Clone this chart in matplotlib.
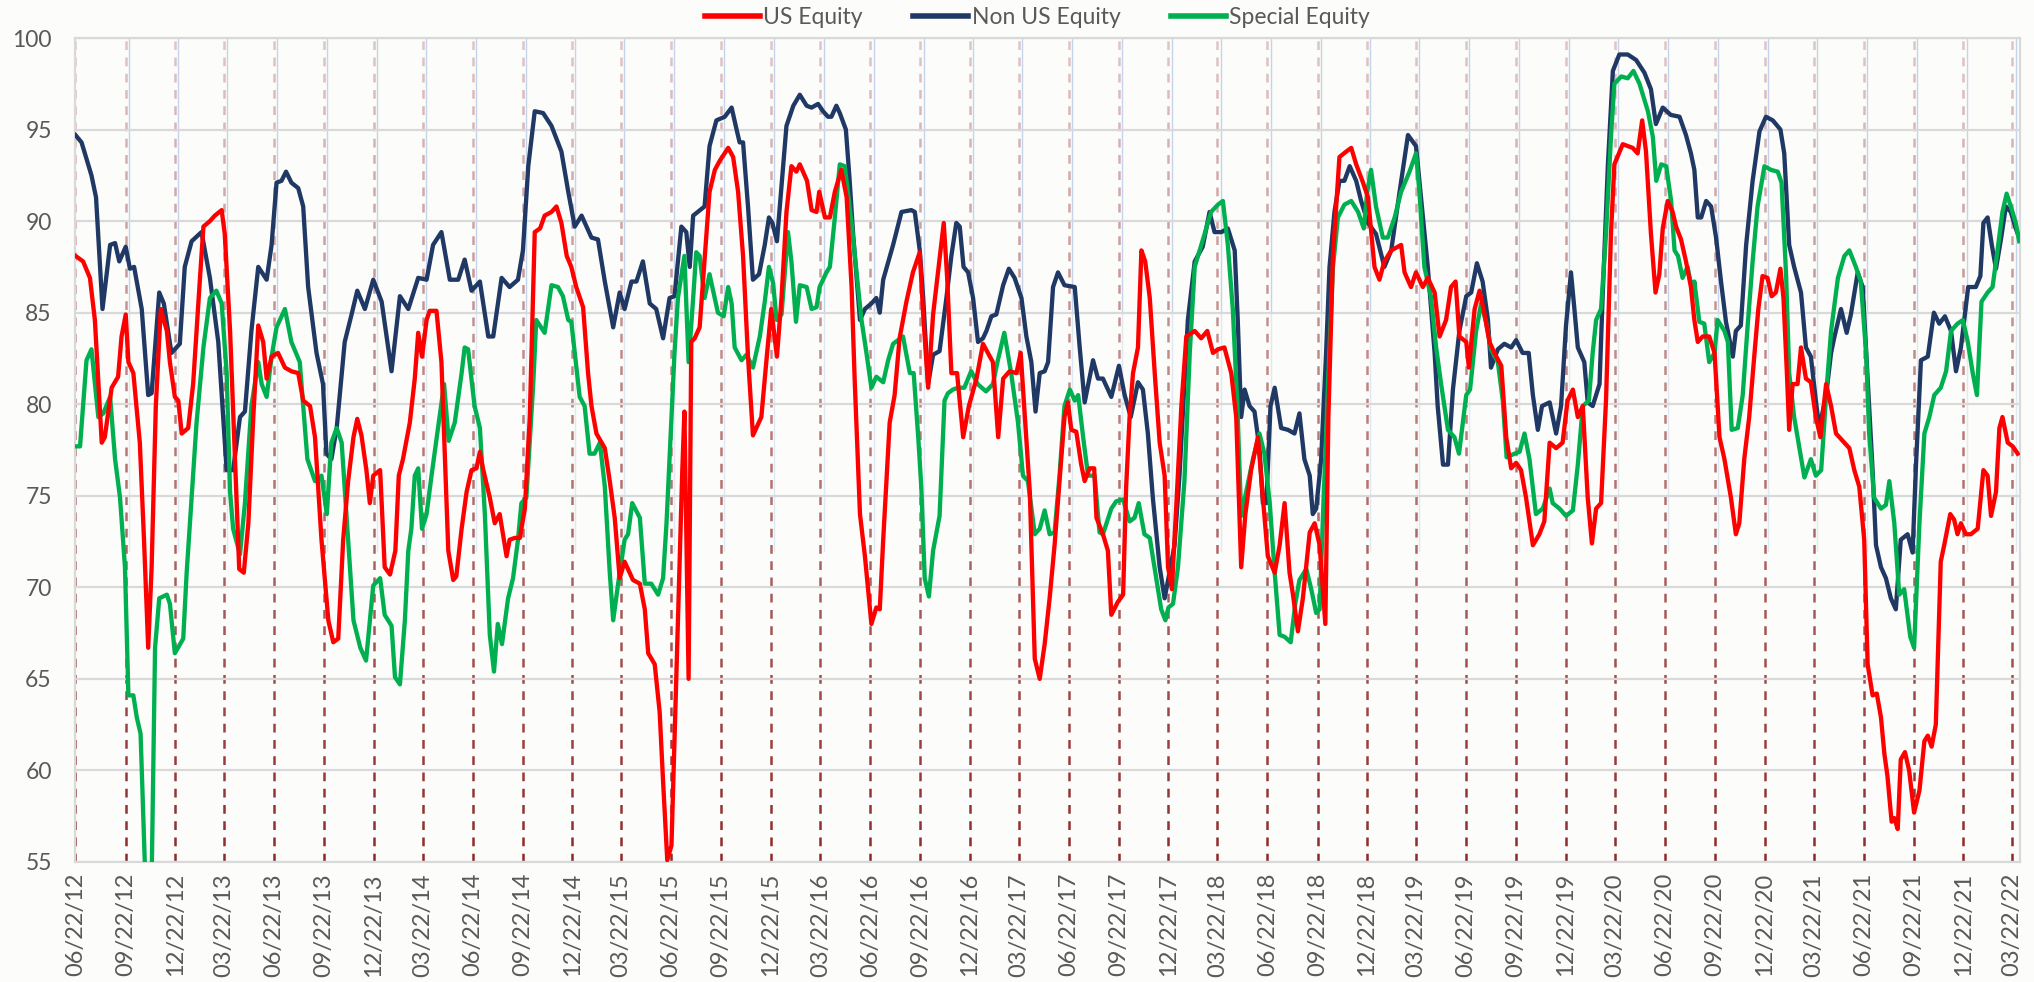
import numpy as np
import pandas as pd
import matplotlib
matplotlib.use('Agg')
import matplotlib.pyplot as plt
from matplotlib.lines import Line2D

plt.rcParams['font.family'] = ['Lato', 'DejaVu Sans']

# weeks since 06/22/2012 and index values
us_weeks = [0, 2, 3.8, 5.1, 6.9, 7.7, 9.5, 11.2, 12.1, 13.2, 13.9, 15.2, 16.9, 18, 19.1, 20, 21.1, 22.4, 24, 24.8,
            26.1, 27, 27.9, 29.6, 30.9, 32.7, 33.6, 35.3, 36.6, 38.4, 39.2, 40.6, 41.9, 43, 44.2, 45.4, 46.7, 48,
            49.3, 50.2, 51.5, 53.2, 55, 56.7, 58.5, 59.8, 61.6, 62.9, 64.6, 66.4, 67.7, 69, 70.3, 71.6, 73, 74,
            75.1, 76.4, 77.3, 78.2, 80, 81.2, 82.6, 84, 84.9, 86, 87.8, 89.1, 90, 91, 92.2, 93, 94.8, 96.1, 97.9,
            99.2, 100, 101.4, 102.7, 104, 105.3, 106.2, 107, 108.8, 110.1, 111.4, 113.2, 114, 115.4, 116.7, 118,
            119.3, 120.6, 122, 123.2, 125, 126.3, 127.6, 129, 130.2, 131.5, 133.3, 134.6, 135.5, 136.8, 139, 140.3,
            141.6, 142.9, 144.2, 146.4, 148.2, 149.5, 150.4, 152.1, 153.4, 154.3, 155.4, 156.5, 158.2, 159.3,
            159.9, 161, 161.7, 162.6, 163.9, 165.7, 166.5, 167.9, 169.2, 171.4, 172.7, 174, 175.3, 176.6, 177.9,
            180.1, 181.4, 182.7, 184.2, 185.4, 186.7, 188, 189.3, 190.2, 192.1, 193.3, 194.6, 195.3, 196.8, 198.1,
            199.4, 201.1, 202.5, 203.8, 204.6, 206, 207.3, 209, 210.3, 211.2, 212.1, 213.8, 215.1, 216.4, 218.2,
            219.9, 221.7, 222.6, 223.9, 225.2, 226.5, 228, 228.9, 230, 231.5, 233.1, 234.6, 236.6, 238.3, 240.1,
            240.9, 242.3, 243.6, 245.3, 247.1, 248.2, 249.3, 250.6, 251.9, 253.2, 254.5, 255.8, 257.1, 258.4,
            259.7, 260.6, 261.5, 262.8, 264.1, 265, 266.3, 267.5, 268.1, 269.8, 271.1, 272, 273.7, 275.1, 275.9,
            276.8, 277.7, 279, 279.9, 280.9, 282.1, 283.4, 284.7, 286, 286.9, 287.9, 289.1, 290.4, 291.7, 293.9,
            295.6, 297.2, 298.7, 300, 301.7, 303.5, 304.8, 306.1, 307.2, 308.7, 310.5, 311.8, 313.1, 314.9, 316.2,
            317.5, 318.8, 319.7, 321, 322.3, 324.1, 325.4, 326.7, 328.2, 329, 330.2, 331.9, 333.7, 335, 336.3,
            338.1, 339.4, 341.1, 342.4, 343.7, 345.5, 348.1, 349, 350.7, 352, 353.8, 355.1, 356.9, 358.2, 359.9,
            361.2, 362.4, 363.4, 365.2, 365.9, 367.4, 368.7, 370, 371.3, 372.6, 374.4, 375.7, 377, 378.3, 379.6,
            380.9, 382.7, 384.4, 385.7, 387.1, 388.8, 390.5, 391.8, 393.2, 394.5, 395.8, 397.1, 398.2, 399.3,
            400.6, 401.9, 403.2, 404.1, 406.3, 408.9, 410.2, 411.4, 412.4, 413.7, 414.9, 415.9, 416.8, 418.1,
            419.4, 420.3, 421.6, 422.9, 424.2, 425.1, 426, 427.3, 429, 430.4, 431.7, 433, 434.7, 436, 436.9, 438.2,
            439.5, 440.9, 441.9, 443, 444.3, 445.4, 446.5, 447.7, 448.5, 449.4, 450, 450.9, 452.2, 453.1, 454.4,
            455.7, 457, 458.2, 459.7, 461, 462.3, 464.5, 465.8, 467.1, 468.4, 469.7, 470.6, 471.9, 473, 474.1, 475,
            475.8, 476.9, 477.6, 478.5, 479.3, 480.4, 481.5, 482.8, 484.2, 485.5, 486.4, 487.4, 488.5, 489.8,
            490.7, 492.3, 493.3, 494.2, 495.1, 496.4, 497.7, 499.5, 501, 502.1, 503, 504.3, 505.2, 506, 507.4,
            508.7, 510]
us_vals = [88.1, 87.8, 86.9, 84.6, 77.9, 78.2, 80.9, 81.5, 83.7, 84.9, 82.3, 81.7, 77.9, 72.6, 66.7, 71.1, 79.9,
           85.2, 84.0, 82.3, 80.4, 80.2, 78.4, 78.7, 81.1, 86.9, 89.7, 90.0, 90.3, 90.6, 89.3, 84.0, 77.0, 71.0,
           70.8, 73.5, 79.3, 84.3, 83.4, 81.4, 82.6, 82.8, 82.0, 81.8, 81.7, 80.2, 79.9, 78.2, 72.6, 68.2, 67.0,
           67.2, 72.6, 75.8, 78.2, 79.2, 78.3, 76.4, 74.6, 76.1, 76.4, 71.1, 70.7, 72.0, 76.1, 77.0, 79.0, 81.4,
           83.9, 82.6, 84.6, 85.1, 85.1, 82.3, 72.0, 70.4, 70.6, 73.2, 75.2, 76.4, 76.5, 77.4, 76.5, 74.9, 73.5,
           74.0, 71.7, 72.6, 72.7, 72.7, 74.3, 79.3, 89.4, 89.6, 90.3, 90.5, 90.8, 89.9, 88.1, 87.5, 86.4, 85.3,
           81.7, 79.9, 78.4, 77.6, 75.8, 73.8, 70.5, 71.4, 70.4, 70.2, 68.8, 66.4, 65.8, 63.2, 59.4, 55.1, 55.9,
           68.2, 76.1, 79.6, 65.0, 83.4, 83.6, 84.2, 89.3, 91.6, 92.8, 93.3, 94.0, 93.5, 91.6, 88.1, 82.6, 78.3,
           79.3, 82.3, 85.2, 82.6, 85.8, 90.5, 93.0, 92.7, 93.1, 92.2, 90.6, 90.5, 91.6, 90.2, 90.2, 91.6, 92.8,
           91.3, 86.4, 81.4, 74.0, 71.7, 68.0, 68.9, 68.8, 72.6, 79.0, 80.5, 83.6, 85.6, 87.2, 88.3, 84.9, 80.9,
           84.9, 87.2, 89.9, 86.9, 81.7, 81.7, 78.2, 79.9, 81.4, 83.3, 82.6, 82.3, 78.2, 81.4, 81.8, 81.7, 82.8,
           79.3, 75.2, 66.1, 65.0, 66.9, 69.4, 72.3, 75.8, 79.3, 80.1, 78.6, 78.5, 76.7, 75.8, 76.5, 76.5, 73.8,
           72.9, 72.0, 68.5, 69.2, 69.6, 75.5, 79.3, 81.7, 83.1, 88.4, 87.8, 85.8, 81.7, 77.9, 76.1, 71.1, 69.9,
           74.6, 79.9, 83.7, 84.0, 83.6, 84.0, 82.8, 83.0, 83.1, 81.7, 79.3, 71.1, 74.0, 76.4, 78.2, 74.9, 71.7,
           70.8, 72.3, 74.6, 70.8, 69.6, 67.6, 69.4, 73.0, 73.5, 72.3, 68.0, 79.3, 88.1, 93.5, 93.8, 94.0, 93.1,
           92.1, 91.3, 87.5, 86.8, 87.8, 88.4, 88.7, 87.2, 86.4, 87.2, 86.4, 86.9, 86.1, 83.7, 84.6, 86.4, 86.7,
           83.7, 83.4, 82.0, 85.2, 86.2, 84.9, 83.4, 82.8, 82.1, 78.2, 76.5, 76.8, 76.4, 74.9, 72.3, 72.9, 73.6,
           77.9, 77.6, 77.9, 80.2, 80.8, 79.3, 79.9, 74.9, 72.4, 74.3, 74.6, 80.2, 89.3, 93.1, 94.2, 94.0, 93.7,
           95.5, 93.8, 89.3, 86.1, 87.1, 89.6, 91.1, 90.5, 89.7, 89.0, 87.8, 86.4, 84.6, 83.4, 83.7, 83.7, 82.8,
           78.2, 77.0, 74.9, 72.9, 73.5, 77.0, 79.3, 82.8, 85.2, 87.0, 86.9, 85.9, 86.1, 87.4, 85.8, 81.7, 78.6,
           81.1, 81.1, 83.1, 81.4, 81.2, 79.3, 78.2, 81.1, 79.9, 78.4, 77.9, 77.6, 76.4, 75.5, 72.6, 65.8, 64.1,
           64.2, 62.9, 60.9, 59.7, 57.2, 57.4, 56.8, 60.6, 61.0, 60.0, 57.7, 58.9, 61.6, 61.9, 61.3, 62.5, 71.4,
           72.3, 74.0, 73.7, 72.9, 73.5, 72.9, 72.9, 73.2, 76.4, 76.1, 73.9, 75.2, 78.7, 79.3, 77.9, 77.7, 77.3]

non_us_weeks = [0, 1.6, 4.2, 5.4, 7.1, 9.1, 10.4, 11.5, 13.2, 14.3, 15.4, 17.4, 19.1, 20, 22, 23.2, 25.2, 27.4,
                28.7, 30.5, 33.1, 35.3, 37.5, 39.7, 41.4, 43.2, 44.5, 46.2, 48, 50.2, 51.5, 52.8, 54.1, 55.3, 56.7,
                58.5, 59.8, 61.1, 63.3, 65, 65.9, 67.2, 68.6, 70.7, 72.5, 74, 76, 78.2, 80.4, 83, 85.2, 87.4, 90,
                92.2, 93.9, 96.1, 98.3, 100.5, 102.2, 104, 106.2, 108.4, 109.7, 111.9, 114, 116.2, 117.5, 118.9,
                120.6, 122.8, 125, 127.6, 129.4, 131.1, 132.9, 135.5, 137.2, 139, 141.2, 142.9, 144.2, 146, 147.3,
                149, 150.8, 152.5, 154.3, 156, 157.3, 159.1, 160.4, 161.3, 162.2, 165.2, 166.5, 168.3, 170.5,
                172.3, 173.6, 174.4, 175.3, 176.6, 177.9, 179.5, 181, 182.1, 183, 184.2, 185.4, 186.7, 188.5,
                190.2, 192, 193.3, 195, 196.3, 197.6, 198.5, 199.8, 200.7, 202.3, 203.3, 204.2, 206, 207.3, 209,
                210.3, 211.2, 212.1, 214.7, 216.9, 219.5, 220.4, 221.7, 222.6, 223.9, 225.2, 226.9, 228.7, 230,
                231.3, 232.2, 233.2, 234.4, 235.7, 237, 238.3, 239.2, 240.5, 241.8, 243.6, 245.1, 246.6, 248.4,
                249.7, 251, 252.1, 253.2, 254.5, 255.4, 256.7, 258, 259.7, 262.4, 263.7, 265, 267.2, 268.5, 269.8,
                272, 274, 275.5, 277.1, 279, 280.3, 281.6, 282.9, 284.7, 286, 287, 288.6, 289.9, 292.1, 293.9, 296,
                297.8, 299.1, 300.9, 302.6, 304.4, 305.2, 306.1, 307, 308.3, 309.6, 310.9, 311.8, 312.7, 313.8,
                314.9, 316.6, 318.4, 320.1, 321.4, 322.7, 324.1, 324.9, 325.8, 327.1, 328.4, 329.3, 330.6, 331.9,
                333.2, 334.6, 336.3, 337.6, 339.4, 341.5, 343.7, 345.5, 347.7, 349.9, 352, 352.9, 355.1, 356.9,
                357.7, 359.1, 360.4, 361.7, 363.4, 365.2, 366.5, 368, 369.5, 370.9, 371.7, 373.5, 375.2, 377, 378.3,
                380, 381.6, 382.7, 384, 385.1, 387.1, 388.8, 390.1, 391.4, 392.7, 393.6, 394.5, 396.2, 397.1, 398.4,
                400.2, 401, 402.4, 403.7, 405.4, 407.6, 409.8, 412, 413.7, 415, 416.8, 418.9, 421.2, 422.9, 424.2,
                425.1, 426, 426.9, 428.2, 429.5, 430.8, 432.1, 433.4, 435.2, 436, 437.3, 438.7, 440.4, 442.2, 443.9,
                445.7, 447.7, 448.7, 450, 451.3, 453.1, 454.4, 455.7, 457, 457.9, 459.7, 461, 461.8, 463.6, 465.1,
                466.2, 468, 469.3, 470.6, 471.9, 472.8, 474.1, 475.4, 476.7, 478, 479.3, 481.1, 482.4, 483.3, 484.6,
                486.4, 488, 489.4, 490.9, 492.5, 493.8, 495.1, 497, 499, 500.2, 501, 502.1, 503.2, 504.3, 505.6,
                506.9, 508.2, 509.5, 510.4]
non_us_vals = [94.7, 94.3, 92.5, 91.3, 85.2, 88.7, 88.8, 87.8, 88.6, 87.4, 87.5, 85.2, 80.5, 80.6, 86.1, 85.5,
               82.8, 83.3, 87.5, 88.9, 89.4, 86.9, 83.4, 76.4, 76.4, 79.3, 79.6, 84.0, 87.5, 86.8, 88.7, 92.1, 92.2,
               92.7, 92.1, 91.8, 90.8, 86.4, 82.8, 81.1, 77.3, 77.0, 78.7, 83.4, 84.9, 86.2, 85.2, 86.8, 85.6, 81.8,
               85.9, 85.2, 86.9, 86.8, 88.7, 89.4, 86.8, 86.8, 87.9, 86.2, 86.7, 83.7, 83.7, 86.9, 86.4, 86.8, 88.4,
               93.0, 96.0, 95.9, 95.2, 93.8, 91.6, 89.7, 90.3, 89.1, 89.0, 86.7, 84.2, 86.1, 85.2, 86.7, 86.7, 87.8,
               85.5, 85.2, 83.6, 85.8, 85.9, 89.7, 89.4, 87.5, 90.3, 90.8, 94.1, 95.5, 95.7, 96.2, 95.0, 94.3, 94.3,
               90.8, 86.8, 87.1, 88.7, 90.2, 89.9, 88.9, 91.9, 95.2, 96.3, 96.9, 96.3, 96.2, 96.4, 96.0, 95.7, 95.7,
               96.3, 95.9, 95.0, 92.2, 89.3, 84.6, 85.2, 85.5, 85.8, 85.0, 86.8, 88.7, 90.5, 90.6, 90.5, 88.4, 85.8,
               81.1, 82.7, 82.9, 85.8, 88.1, 89.9, 89.7, 87.5, 87.2, 85.8, 83.4, 83.6, 84.0, 84.8, 84.9, 86.5, 87.4,
               86.9, 85.8, 83.7, 82.3, 79.6, 81.7, 81.8, 82.3, 86.4, 87.2, 86.5, 86.4, 83.1, 80.1, 82.4, 81.4, 81.4,
               80.4, 82.1, 80.5, 79.3, 81.2, 80.8, 78.4, 74.9, 71.1, 69.4, 70.5, 72.3, 76.1, 84.6, 87.8, 88.6, 90.5,
               89.4, 89.4, 89.6, 88.4, 84.6, 79.3, 80.8, 79.9, 79.6, 77.6, 74.6, 74.6, 79.9, 80.9, 78.7, 78.6, 78.4,
               79.5, 77.0, 76.1, 74.0, 74.3, 77.0, 82.8, 87.5, 90.5, 92.2, 92.2, 93.0, 92.2, 91.1, 89.9, 89.3, 87.5,
               88.4, 91.6, 94.7, 94.1, 92.2, 87.5, 82.8, 79.9, 76.7, 76.7, 80.8, 84.0, 85.9, 86.1, 87.7, 86.7, 84.6,
               82.0, 83.0, 83.3, 83.1, 83.5, 82.8, 82.8, 80.5, 78.6, 79.9, 80.1, 78.4, 79.9, 84.3, 87.2, 85.2, 83.1,
               82.3, 80.1, 79.9, 81.1, 85.8, 93.1, 98.2, 99.1, 99.1, 98.8, 98.1, 97.2, 95.3, 96.2, 95.8, 95.7, 94.7,
               93.7, 92.8, 90.2, 90.2, 91.1, 90.8, 89.1, 86.7, 84.5, 82.6, 84.0, 84.3, 88.7, 92.2, 94.9, 95.7, 95.5,
               95.0, 93.7, 88.7, 87.5, 86.1, 83.1, 82.6, 80.2, 78.7, 80.5, 82.8, 83.6, 85.2, 83.9, 84.9, 87.2, 86.4,
               81.4, 76.4, 72.3, 71.1, 70.5, 69.4, 68.8, 72.6, 72.9, 71.9, 76.7, 82.4, 82.6, 85.0, 84.4, 84.8, 84.0,
               81.8, 83.1, 86.4, 86.4, 87.0, 89.9, 90.2, 88.7, 87.4, 89.0, 90.8, 90.5, 89.6, 89.1]

special_weeks = [0, 1.2, 2.9, 4.2, 6, 7.3, 9.1, 10.4, 11.7, 13, 13.9, 15.2, 16.1, 17.1, 18.2, 19, 20, 20.9, 22, 24,
                 24.8, 26.1, 28.3, 29.2, 30.5, 31.8, 33.6, 35.3, 37, 38.4, 39.7, 40.6, 41.4, 43.2, 44.5, 46.2, 48,
                 48.9, 50.2, 51.5, 52.8, 55, 56.7, 58.9, 59.8, 60.9, 62.9, 64.6, 66, 67.2, 68.6, 69.9, 71.6, 73,
                 74.8, 76.3, 78.2, 80, 81.2, 83, 83.9, 85.2, 86.5, 87.4, 88.2, 89.1, 90, 91, 92.2, 93.5, 95.2, 96.8,
                 98, 99.6, 101.4, 102.2, 103.1, 104.8, 106.2, 107.5, 108.8, 109.9, 110.9, 112, 113.6, 114.9, 116.2,
                 117.1, 118.4, 120.2, 121, 123.2, 125, 126.7, 128, 129.4, 130.2, 132.4, 133.7, 135, 136.3, 137.7,
                 139, 140.3, 141.2, 142.5, 144.2, 145.1, 146.2, 148.2, 149.5, 151.2, 153, 154.3, 155.2, 156.5,
                 157.3, 158.2, 159.9, 161, 162.2, 163, 163.9, 165.2, 166.5, 168.7, 170.2, 171.4, 172.3, 173.1,
                 174.9, 176.2, 177.9, 179.7, 181, 182.1, 183.2, 184.1, 185.4, 187.1, 188, 189.2, 190.2, 192, 193.3,
                 194.6, 195.4, 197.2, 198.1, 199.4, 200.7, 202, 203.8, 205.1, 206.4, 207.7, 209, 210.3, 212.1,
                 213.4, 214.7, 217.3, 219.1, 220.1, 221.3, 222.1, 223, 224.1, 225.2, 226.9, 228.2, 229.1, 230.4,
                 231.7, 233.4, 235.2, 236.9, 239.1, 240.9, 242.2, 243.9, 245.7, 247.5, 248.8, 250.1, 251.9, 253.2,
                 254.5, 255.8, 257.1, 258.4, 259.7, 261.1, 262.4, 263.3, 264.6, 265.9, 267.6, 268.9, 269.8, 272,
                 273.3, 275.1, 276.8, 278.1, 279.2, 280.7, 282.1, 283.8, 285.1, 286.2, 287, 288.2, 289.5, 291.2,
                 292.6, 293.9, 295.2, 296.5, 298.2, 300, 301.3, 302.6, 303.9, 305.1, 306.1, 307.4, 309.2, 310.9,
                 312.2, 313.6, 314.9, 316.2, 317.5, 319.1, 320.3, 321.4, 323.2, 324.5, 325.8, 326.7, 327.6, 328.9,
                 330.2, 331.5, 333.2, 335, 336.8, 338.3, 339.2, 340.2, 341.5, 343.3, 344.6, 346.4, 348.1, 350.3,
                 352, 352.9, 354.2, 355.9, 357.3, 358.6, 360.4, 362.1, 363.3, 365.2, 366.2, 367.8, 369.1, 370.4,
                 371.7, 373.5, 374.8, 375.8, 377.9, 379.2, 380.5, 381.8, 383.5, 385.3, 387.1, 387.9, 389.7, 391.4,
                 393.2, 394.5, 395.8, 397.4, 398.4, 399.3, 400.6, 401.9, 403.2, 404.1, 405.9, 407.6, 409.1, 410.7,
                 412.9, 414.2, 415.1, 416.4, 417.7, 419, 419.9, 420.8, 422, 423.3, 424.7, 425.1, 426.4, 427.7, 429,
                 430.4, 431.2, 433, 433.9, 434.9, 436.5, 437.8, 439.1, 440.4, 441.7, 443.5, 445.2, 447, 448, 449.2,
                 450, 451.3, 452.7, 454, 455.7, 457, 458.4, 459.7, 461, 462.8, 464.5, 465.8, 467.5, 468.8, 470.2,
                 471, 472.3, 474.1, 475.4, 476.3, 477.6, 478.9, 480.2, 481.8, 482.8, 484.2, 485.5, 486.8, 488.1,
                 489.8, 491.2, 492.5, 494.2, 495.6, 496.9, 498.2, 499.3, 500.5, 502.1, 503.4, 504.7, 506, 507.1,
                 508.2, 509.5, 510.4]
special_vals = [77.7, 77.7, 82.4, 83.0, 79.3, 79.5, 80.4, 77.0, 74.9, 71.1, 64.1, 64.1, 62.9, 62.0, 55.0, 53.5,
                54.0, 66.7, 69.4, 69.6, 69.1, 66.4, 67.2, 70.8, 74.9, 79.0, 83.1, 85.8, 86.2, 85.5, 81.7, 75.2, 73.2,
                71.8, 74.6, 79.9, 82.3, 81.1, 80.4, 82.6, 84.2, 85.2, 83.4, 82.3, 79.9, 77.0, 75.8, 76.1, 74.0, 77.9,
                78.7, 77.9, 72.6, 68.2, 66.7, 66.0, 70.1, 70.5, 68.5, 67.9, 65.1, 64.7, 68.2, 72.0, 73.2, 76.1, 76.5,
                73.2, 74.0, 76.1, 78.7, 81.1, 78.0, 79.0, 81.7, 83.1, 83.0, 79.9, 78.7, 74.0, 67.4, 65.4, 68.0, 66.9,
                69.4, 70.5, 72.6, 74.6, 74.9, 81.1, 84.6, 83.9, 86.5, 86.4, 85.9, 84.6, 84.5, 80.4, 79.9, 77.3, 77.3,
                77.9, 75.5, 70.8, 68.2, 70.2, 72.6, 72.9, 74.6, 73.8, 70.2, 70.2, 69.6, 70.5, 73.5, 79.3, 82.8, 85.8,
                88.1, 82.3, 85.8, 88.3, 88.1, 85.8, 87.1, 85.0, 84.8, 86.4, 85.5, 83.1, 82.4, 82.7, 82.0, 83.7, 85.6,
                87.5, 86.6, 84.6, 84.9, 89.4, 87.8, 84.5, 86.5, 86.4, 85.2, 85.3, 86.4, 87.2, 87.5, 90.2, 93.1, 93.0,
                89.9, 87.2, 84.6, 82.8, 80.9, 81.5, 81.2, 82.4, 83.3, 83.7, 81.7, 81.7, 78.2, 75.5, 70.5, 69.5, 72.0,
                73.9, 80.2, 80.6, 80.8, 80.9, 80.9, 81.8, 81.1, 80.7, 81.1, 82.4, 83.9, 81.7, 79.0, 76.1, 75.8, 72.9,
                73.2, 74.2, 72.9, 73.0, 76.1, 79.9, 80.8, 80.2, 80.5, 78.2, 76.1, 76.1, 73.0, 72.9, 74.3, 74.7, 74.8,
                73.6, 73.8, 74.6, 72.9, 72.7, 70.5, 68.8, 68.2, 68.9, 69.1, 71.1, 75.8, 82.8, 87.5, 88.4, 89.3, 90.5,
                90.9, 91.1, 88.7, 85.2, 79.9, 73.9, 75.2, 77.0, 78.4, 77.3, 74.6, 70.8, 67.4, 67.3, 67.0, 69.1, 70.4,
                71.0, 69.9, 68.6, 68.8, 74.0, 81.1, 87.5, 90.2, 90.9, 91.1, 90.5, 89.6, 91.6, 92.8, 90.8, 89.1, 89.1,
                90.2, 91.6, 92.7, 93.7, 91.6, 87.5, 85.9, 83.1, 81.1, 78.6, 78.2, 77.3, 80.5, 80.8, 84.0, 85.5, 84.5,
                83.0, 82.3, 80.2, 77.1, 77.3, 77.4, 78.4, 77.0, 74.0, 74.3, 75.4, 74.6, 74.3, 73.9, 74.2, 76.7, 79.9,
                80.2, 82.8, 84.6, 85.2, 89.3, 94.6, 97.5, 97.9, 97.8, 98.2, 97.5, 96.0, 94.6, 92.2, 93.1, 93.0, 91.1,
                88.4, 88.1, 86.9, 87.5, 86.1, 86.7, 84.5, 84.4, 82.3, 82.8, 84.6, 84.0, 83.4, 78.6, 78.7, 80.5, 84.3,
                87.8, 90.8, 93.0, 92.8, 92.7, 92.1, 87.0, 81.7, 79.3, 77.6, 76.0, 77.0, 76.1, 76.4, 80.5, 84.0, 86.9,
                88.1, 88.4, 87.5, 86.7, 82.8, 78.4, 74.9, 74.3, 74.5, 75.8, 73.5, 69.6, 69.9, 67.3, 66.7, 73.5, 78.4,
                79.3, 80.5, 80.9, 81.8, 84.0, 84.4, 84.6, 83.4, 81.7, 80.5, 85.6, 86.1, 86.4, 88.4, 90.5, 91.5, 90.8,
                89.9, 88.9]

start = pd.Timestamp('2012-06-22')


def to_dates(weeks):
    return start + pd.to_timedelta(np.array(weeks) * 7, unit='D')


tick_dates = [start + pd.DateOffset(months=3 * i) for i in range(40)]
tick_labels = [d.strftime('%m/%d/%y') for d in tick_dates]

bg = '#FCFCFA'
fig = plt.figure(figsize=(20.34, 9.82), dpi=100, facecolor=bg)
ax = fig.add_axes([0.0371, 0.1222, 0.9560, 0.8391])
ax.set_facecolor(bg)

# dashed quarter markers, faded toward the top
for d in tick_dates:
    ax.axvline(d, color='#8E2A2A', lw=1.8, ls=(0, (3.5, 3)), zorder=1)
grad = np.ones((200, 2, 4))
grad[:, :, :3] = matplotlib.colors.to_rgb(bg)
grad[:, :, 3] = np.linspace(0.75, 0.0, 200)[:, None]
ax.imshow(grad, extent=[0, 1, 0, 1], transform=ax.transAxes, aspect='auto', zorder=1.5)

# thin light-blue companions
for d in tick_dates[1:]:
    d2 = d + pd.Timedelta(days=6)
    ax.plot([d2, d2], [100, 85], color='#BFD0EA', lw=1, alpha=0.9, zorder=1.6)
    ax.plot([d2, d2], [85, 72], color='#BFD0EA', lw=1, alpha=0.45, zorder=1.6)

for yv in range(55, 101, 5):
    ax.axhline(yv, color='#D9D9D9', lw=1.6, zorder=2)

ax.plot(to_dates(us_weeks), us_vals, color='#FF0000', lw=3.1, zorder=4, solid_joinstyle='round')
ax.plot(to_dates(non_us_weeks), non_us_vals, color='#1F3864', lw=3.1, zorder=3, solid_joinstyle='round')
ax.plot(to_dates(special_weeks), special_vals, color='#00B050', lw=3.1, zorder=3.5, solid_joinstyle='round')

ax.set_ylim(55, 100)
ax.set_xlim(start, start + pd.Timedelta(days=510.6 * 7))
ax.set_yticks(range(55, 101, 5))
ax.set_xticks(tick_dates)
ax.set_xticklabels(tick_labels, rotation=90, fontsize=17, color='#595959')
ax.tick_params(axis='y', labelsize=16.5, colors='#595959', length=0, pad=17)
ax.tick_params(axis='x', length=0, pad=8)
for s in ax.spines.values():
    s.set_color('#D9D9D9')
    s.set_linewidth(1.6)

handles = [Line2D([], [], color='#FF0000', lw=4),
           Line2D([], [], color='#1F3864', lw=4),
           Line2D([], [], color='#00B050', lw=4)]
fig.legend(handles, ['US Equity', 'Non US Equity', 'Special Equity'], loc='center',
           bbox_to_anchor=(0.51, 0.982), ncol=3, frameon=False, fontsize=16.5,
           handlelength=2.4, handletextpad=0.15, columnspacing=2.2, labelcolor='#595959')

fig.savefig('out.png', dpi=100, facecolor=bg)
